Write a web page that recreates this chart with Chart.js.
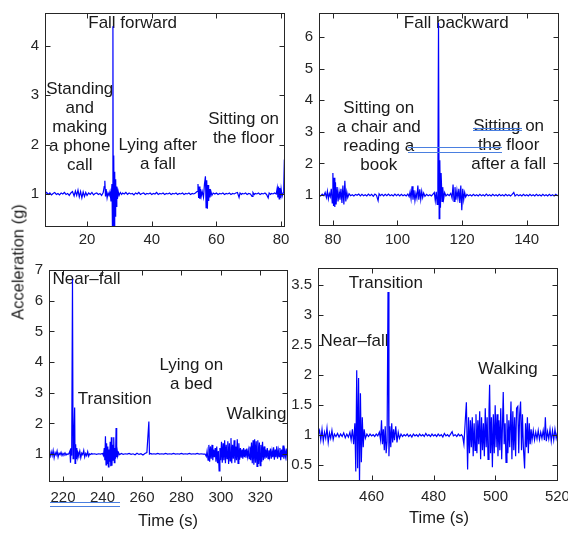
<!DOCTYPE html>
<html>
<head>
<meta charset="utf-8">
<script src="https://cdn.jsdelivr.net/npm/chart.js@4.4.1/dist/chart.umd.min.js"></script>
<style>
  body { margin: 0; background: #fff; width: 568px; height: 535px; position: relative; overflow: hidden; }
  canvas { position: absolute; }
  .axis-title { position: absolute; font: 16.5px 'Liberation Sans', Arial, sans-serif; color: #1a1a1a; white-space: nowrap; transform: translate(-50%, -50%); }
  #ylab { transform: translate(-50%, -50%) rotate(-90deg); }
  .ink { position: absolute; border-top: 1px solid #4a7fe0; border-bottom: 1px solid #4a7fe0; box-sizing: border-box; }
</style>
</head>
<body>
<canvas id="tl"></canvas>
<canvas id="tr"></canvas>
<canvas id="bl"></canvas>
<canvas id="br"></canvas>
<div class="axis-title" id="ylab" style="left:18px; top:262px;">Acceleration (g)</div>
<div class="axis-title" style="left:168px; top:520px;">Time (s)</div>
<div class="axis-title" style="left:439px; top:517px;">Time (s)</div>
<div class="ink" style="left:473px; top:128px; width:49px; height:3px;"></div>
<div class="ink" style="left:408px; top:147px; width:94px; height:6px;"></div>
<div class="ink" style="left:50px; top:502px; width:70px; height:5px;"></div>
<script>
// [time (s), acceleration (g)]
const tlSamples = [
  [7,1.00],[7.5,1.03],[8,0.99],[8.5,1.02],[9,0.98],[9.5,1.01],[10,1.03],[10.5,0.99],[11,1.01],[11.5,0.98],
  [12,1.02],[12.5,1.00],[13,1.03],[13.5,0.99],[14,1.01],[14.5,0.97],[15,1.02],[15.5,1.05],[16,0.96],[16.4,1.06],
  [16.8,0.97],[17.2,1.08],[17.6,0.94],[18,1.05],[18.4,0.92],[18.8,1.04],[19.2,0.95],[19.6,1.03],[20,0.97],[20.5,1.02],
  [21,0.99],[21.5,1.03],[22,0.98],[22.5,1.01],[23,1.02],[23.5,0.99],[24,1.01],[24.5,0.97],[25,1.03],[25.3,1.15],
  [25.5,1.27],[25.7,0.95],[25.9,1.10],[26.2,0.92],[26.5,1.02],[26.8,0.97],[27.1,1.05],[27.4,0.85],[27.7,1.20],[27.85,0.30],
  [28,4.40],[28.1,0.20],[28.25,1.78],[28.4,0.30],[28.55,1.45],[28.7,0.55],[28.85,1.30],[29,0.75],[29.2,1.15],[29.4,0.90],
  [29.6,1.06],[29.9,0.97],[30.3,1.03],[30.7,0.99],[31,1.02],[31.5,1.00],[32,1.03],[32.5,0.99],[33,1.02],[33.5,1.00],
  [34,1.01],[34.5,0.98],[35,1.02],[35.5,1.00],[36,1.03],[36.5,0.99],[37,1.01],[37.5,1.02],[38,0.99],[38.5,1.01],
  [39,1.00],[39.5,1.02],[40,0.99],[40.5,1.01],[41,1.00],[41.5,1.03],[42,0.99],[42.5,1.01],[43,1.00],[43.5,1.02],
  [44,0.99],[44.5,1.01],[45,1.00],[45.5,1.02],[46,0.99],[46.5,1.01],[47,1.00],[47.5,1.02],[48,0.99],[48.5,1.01],
  [49,1.00],[49.5,1.02],[50,0.99],[50.5,1.01],[51,1.00],[51.5,1.02],[52,0.99],[52.5,1.01],[53,1.00],[53.5,1.02],
  [54,1.05],[54.3,1.20],[54.5,0.92],[54.7,1.15],[54.9,0.90],[55.1,1.10],[55.3,0.95],[55.6,1.05],[56,0.93],[56.3,1.20],
  [56.6,1.36],[56.8,0.72],[57,1.28],[57.2,0.70],[57.4,1.18],[57.6,0.86],[57.8,1.10],[58,0.93],[58.3,1.05],[58.6,0.97],
  [59,1.02],[59.5,1.00],[60,1.02],[60.5,0.99],[61,1.01],[61.5,1.00],[62,1.02],[62.5,0.99],[63,1.01],[63.5,1.00],
  [64,1.02],[64.5,0.99],[65,1.01],[65.5,1.00],[66,1.02],[66.5,1.03],[67,0.93],[67.3,1.02],[67.7,0.99],[68,1.01],
  [68.5,1.00],[69,1.02],[69.5,0.99],[70,1.01],[70.5,1.00],[71,0.95],[71.3,1.03],[71.7,0.99],[72,1.01],[72.5,1.00],
  [73,1.02],[73.5,0.99],[74,1.01],[74.5,1.00],[75,1.02],[75.5,0.99],[76,0.92],[76.3,1.02],[76.7,0.99],[77,1.01],
  [77.5,1.00],[78,1.02],[78.5,1.00],[78.8,1.12],[79,0.93],[79.2,1.15],[79.4,0.90],[79.6,1.12],[79.8,0.92],[80,1.10],
  [80.3,0.95],[80.6,1.02],[80.8,1.10],[81.0,1.70],[81.1,0.72],[81.2,0.78]
];

const trSamples = [
  [75.7,1.00],[76.2,0.97],[76.7,1.03],[77.2,0.98],[77.6,1.08],[78,0.92],[78.3,1.12],[78.6,0.88],[78.9,1.05],[79.2,0.95],
  [79.5,1.20],[79.8,0.75],[80,1.70],[80.2,0.65],[80.4,1.55],[80.6,0.62],[80.8,1.40],[81,0.70],[81.3,1.25],[81.6,0.80],
  [81.9,1.10],[82.2,0.85],[82.5,1.20],[82.8,0.75],[83.1,1.30],[83.4,0.70],[83.7,1.45],[84,0.80],[84.3,1.10],[84.6,0.92],
  [85,1.04],[85.5,0.98],[86,1.01],[86.5,0.97],[87,1.02],[87.5,0.99],[88,1.03],[88.5,0.97],[89,1.02],[89.5,0.98],
  [90,1.01],[90.5,0.97],[91,1.03],[91.5,0.98],[92,1.02],[92.5,0.96],[93,1.03],[93.5,0.99],[94,0.82],[94.3,1.04],
  [94.7,0.98],[95.2,1.02],[95.7,0.97],[96.2,1.02],[96.7,0.98],[97.2,1.03],[97.7,0.98],[98.2,1.01],[98.7,0.97],[99.2,1.03],
  [99.7,0.98],[100.2,1.02],[100.7,0.97],[101.2,1.02],[101.7,0.98],[102.2,1.01],[102.7,0.97],[103.2,1.03],[103.6,0.95],[103.9,1.10],
  [104.2,0.88],[104.5,1.28],[104.8,0.85],[105.1,1.15],[105.4,0.82],[105.7,1.05],[106,0.90],[106.3,1.30],[106.6,0.85],[106.9,1.18],
  [107.2,0.86],[107.5,1.12],[107.8,0.92],[108.1,1.06],[108.5,0.96],[109,1.02],[109.5,0.98],[110,1.01],[110.5,0.97],[111,1.03],
  [111.4,1.08],[111.7,0.82],[112,1.10],[112.3,0.70],[112.5,1.40],[112.7,6.45],[112.9,0.25],[113.1,2.10],[113.3,0.60],[113.5,1.70],
  [113.8,0.80],[114,1.25],[114.3,0.88],[114.6,1.08],[115,0.97],[115.5,1.02],[116,0.98],[116.5,1.05],[116.9,0.90],[117.2,1.33],
  [117.5,0.80],[117.8,1.25],[118.1,0.85],[118.4,1.15],[118.7,0.90],[119,1.20],[119.3,0.75],[119.6,1.30],[119.9,0.52],[120.2,1.20],
  [120.5,0.85],[120.8,1.08],[121.1,0.94],[121.5,1.02],[122,0.98],[122.5,1.01],[123,0.97],[123.5,1.02],[124,0.98],[124.5,1.01],
  [125,0.97],[125.5,1.02],[126,0.98],[126.5,1.01],[127,0.97],[127.5,1.03],[128,0.98],[128.5,1.01],[129,0.97],[129.5,1.02],
  [130,0.98],[130.5,1.01],[131,0.97],[131.5,1.02],[132,0.98],[132.5,1.01],[133,0.97],[133.5,1.02],[134,0.98],[134.5,1.01],
  [135,0.97],[135.5,1.02],[136,1.08],[136.4,0.97],[137,1.02],[137.5,0.98],[138,1.01],[138.5,0.97],[139,1.02],[139.5,0.98],
  [140,1.01],[140.5,0.97],[141,1.02],[141.5,0.98],[142,1.01],[142.5,0.97],[143,1.02],[143.5,0.98],[144,1.01],[144.5,0.97],
  [145,1.02],[145.5,0.98],[146,1.01],[146.5,0.97],[147,1.02],[147.5,0.98],[148,1.01],[148.5,0.97],[149,1.02],[149.5,0.98],[150,1.00]
];

const blSamples = [
  [212.9,1.00],[213.5,0.92],[214,1.08],[214.5,0.95],[215,1.12],[215.5,0.88],[216,1.05],[216.5,0.97],[217,1.10],[217.5,0.90],
  [218,1.03],[218.5,0.98],[219,1.06],[219.5,0.95],[220,1.02],[220.5,0.98],[221,1.04],[221.5,0.97],[222,1.01],[222.5,0.99],
  [223,1.02],[223.5,1.10],[223.8,0.72],[224.1,1.20],[224.4,0.95],[224.8,6.70],[225.1,0.85],[225.4,1.30],[225.9,2.52],[226.1,0.70],
  [226.4,1.32],[226.7,0.85],[227,1.20],[227.3,0.92],[227.6,1.05],[228,0.97],[228.5,1.10],[229,0.88],[229.5,1.03],[230,0.98],
  [230.5,1.12],[231,0.90],[231.5,1.02],[232,0.95],[232.5,1.08],[233,0.93],[233.5,1.01],[234,0.99],[234.5,1.02],[235,1.00],
  [236,1.01],[237,0.99],[238,1.01],[239,1.00],[240,1.02],[240.5,0.95],[240.9,1.20],[241.2,0.80],[241.5,1.58],[241.8,0.65],
  [242.1,1.35],[242.4,0.70],[242.7,1.25],[243,0.58],[243.3,1.15],[243.6,0.75],[243.9,1.40],[244.2,0.60],[244.5,1.55],[244.8,0.62],
  [245.1,1.30],[245.4,0.80],[245.7,1.55],[246,0.72],[246.3,1.20],[246.6,0.85],[246.9,1.85],[247.2,0.90],[247.5,1.10],[247.8,0.95],
  [248.2,1.04],[248.7,0.98],[249.5,1.02],[250.5,0.99],[251.5,1.01],[252.5,1.00],[253.5,1.02],[254.5,0.99],[255.5,1.01],[256.5,0.98],
  [257.5,1.03],[258.5,0.99],[259.5,1.01],[260.5,0.97],[261.5,1.02],[262.5,1.05],[263.5,2.06],[263.8,1.00],[264.5,1.02],[265,1.00],
  [266,1.01],[267,1.00],[268,1.02],[269,1.00],[270,1.01],[271,1.00],[272,1.02],[273,1.00],[274,1.01],[275,1.00],
  [276,1.02],[277,1.00],[278,1.01],[279,1.00],[280,1.02],[281,1.00],[282,1.01],[283,1.00],[284,1.02],[285,1.00],
  [286,1.01],[287,1.00],[288,1.02],[289,1.00],[290,1.01],[291,1.00],[292,1.00],[292.6,0.92],[293,1.10],[293.5,0.80],
  [293.9,1.30],[294.3,0.75],[294.7,1.25],[295.1,0.85],[295.5,1.30],[295.9,0.80],[296.3,1.15],[296.7,0.90],[297.1,1.20],[297.5,0.75],
  [297.9,1.25],[298.3,0.70],[298.7,1.10],[299.1,0.45],[299.5,1.20],[299.9,0.80],[300.3,1.40],[300.7,0.72],[301.1,1.35],[301.5,0.80],
  [301.9,1.45],[302.3,0.70],[302.7,1.30],[303.1,0.85],[303.5,1.42],[303.9,0.68],[304.3,1.35],[304.7,0.78],[305.1,1.52],[305.5,0.70],
  [305.9,1.30],[306.3,0.85],[306.7,1.45],[307.1,0.72],[307.5,1.25],[307.9,0.80],[308.3,1.48],[308.7,0.70],[309.1,1.35],[309.5,0.82],
  [309.9,1.20],[310.3,0.88],[310.7,1.15],[311.1,0.85],[311.5,1.20],[311.9,0.90],[312.3,1.15],[312.7,0.88],[313.1,1.18],[313.5,0.92],
  [313.9,1.12],[314.3,0.85],[314.7,1.25],[315.1,0.80],[315.5,1.38],[315.9,0.70],[316.3,1.45],[316.7,0.65],[317.1,1.48],[317.5,0.72],
  [317.9,1.42],[318.3,0.60],[318.7,1.45],[319.1,0.68],[319.5,1.38],[319.9,0.62],[320.3,1.30],[320.7,0.75],[321.1,1.40],[321.5,0.80],
  [321.9,1.25],[322.3,0.85],[322.7,1.15],[323.1,0.88],[323.5,1.20],[323.9,0.85],[324.3,1.12],[324.7,0.92],[325.1,1.18],[325.5,0.85],
  [325.9,1.10],[326.3,0.90],[326.7,1.22],[327.1,0.82],[327.5,1.15],[327.9,0.90],[328.3,1.25],[328.7,0.85],[329.1,1.12],[329.5,0.92],
  [329.9,1.20],[330.3,0.80],[330.7,1.15],[331.1,0.90],[331.5,1.28],[331.9,0.85],[332.3,1.10],[332.7,0.92],[333.1,1.18],[333.5,0.88],[334,1.00]
];

const brSamples = [
  [442.7,1.00],[443.2,1.08],[443.6,0.92],[444,1.10],[444.4,0.90],[444.8,1.05],[445.2,0.95],[445.6,1.12],[446,0.88],[446.4,1.04],
  [446.8,0.95],[447.2,1.08],[447.6,0.93],[448,1.02],[448.5,0.98],[449,1.03],[449.5,0.97],[450,1.02],[450.5,0.98],[451,1.04],
  [451.5,0.96],[452,1.02],[452.5,0.97],[453,1.05],[453.4,0.92],[453.8,1.10],[454.2,0.85],[454.6,1.20],[454.9,0.40],[455.2,2.08],
  [455.5,0.45],[455.8,1.95],[456.1,0.20],[456.4,1.70],[456.7,0.55],[457,1.30],[457.3,0.80],[457.6,1.10],[458,0.95],[458.5,1.02],
  [459,0.98],[459.5,1.02],[460,0.99],[460.5,1.01],[461,0.98],[461.5,1.02],[462,0.99],[462.5,1.05],[462.9,0.92],[463.2,1.25],
  [463.5,0.85],[463.8,1.10],[464.1,0.75],[464.4,1.15],[464.7,0.70],[465,0.90],[465.3,3.38],[465.6,0.65],[465.9,1.15],[466.2,0.80],
  [466.5,1.20],[466.8,0.88],[467.1,1.10],[467.4,0.92],[467.8,1.15],[468.2,0.88],[468.6,1.05],[469,0.95],[469.5,1.02],[470,0.98],
  [470.5,1.01],[471,0.99],[471.5,1.02],[472,0.98],[472.5,1.01],[473,0.97],[473.5,1.02],[474,0.99],[474.5,1.01],[475,0.98],
  [475.5,1.02],[476,0.99],[476.5,1.01],[477,0.98],[477.5,1.03],[478,0.99],[478.5,1.01],[479,0.98],[479.5,1.02],[480,0.99],
  [480.5,1.01],[481,0.98],[481.5,1.02],[482,0.99],[482.5,1.01],[483,0.97],[483.5,1.03],[484,0.99],[484.5,1.01],[485,0.98],
  [485.5,1.02],[486,1.06],[486.4,0.99],[487,1.01],[487.5,0.98],[488,1.02],[488.5,0.99],[489,1.01],[489.4,0.98],[489.8,0.85],
  [490.2,1.20],[490.6,1.55],[491,0.43],[491.3,1.30],[491.6,0.70],[491.9,1.25],[492.2,0.80],[492.5,1.30],[492.8,0.65],[493.1,1.20],
  [493.4,0.75],[493.7,1.35],[494,0.70],[494.3,1.25],[494.6,0.85],[494.9,1.40],[495.2,0.60],[495.5,1.30],[495.8,0.75],[496.1,1.20],
  [496.4,0.65],[496.7,1.45],[497,0.80],[497.3,1.30],[497.6,0.60],[497.9,1.40],[498.1,1.84],[498.4,0.70],[498.7,1.30],[499,0.47],
  [499.3,1.35],[499.6,0.70],[499.9,1.50],[500.2,0.80],[500.5,1.35],[500.8,0.65],[501.1,1.25],[501.4,0.75],[501.7,1.45],[502,0.60],
  [502.5,1.72],[502.8,0.85],[503.1,1.20],[503.4,0.55],[503.7,1.35],[504,0.70],[504.3,1.25],[504.6,0.80],[505,1.56],[505.3,0.60],
  [505.6,1.40],[505.9,0.75],[506.2,1.30],[506.5,0.65],[506.8,1.45],[507.2,1.48],[507.5,0.70],[507.8,1.35],[508.1,1.56],[508.4,0.75],
  [508.7,1.35],[509,0.80],[509.4,0.45],[509.7,1.20],[510,0.80],[510.3,1.30],[510.6,0.70],[510.9,1.20],[511.2,0.85],[511.5,1.10],
  [511.8,0.92],[512.2,1.08],[512.6,0.92],[513,1.05],[513.4,0.94],[513.8,1.08],[514.2,0.93],[514.6,1.05],[515,0.95],[515.4,1.08],
  [515.8,0.92],[516.1,1.30],[516.4,0.90],[516.8,1.06],[517.2,0.94],[517.6,1.10],[518,0.90],[518.4,1.08],[518.8,0.92],[519.2,1.10],
  [519.6,0.95],[520,1.05],[520.2,0.93]
];

// tick values
const tlTicksX = [20, 40, 60, 80];
const tlTicksY = [1, 2, 3, 4];
const trTicksX = [80, 100, 120, 140];
const trTicksY = [1, 2, 3, 4, 5, 6];
const blTicksX = [220, 240, 260, 280, 300, 320];
const blTicksY = [1, 2, 3, 4, 5, 6, 7];
const brTicksX = [460, 480, 500, 520];
const brTicksY = [0.5, 1, 1.5, 2, 2.5, 3, 3.5];

// activity labels, placed at (time, g)
const tlNotes = [
  { lines: ['Fall forward'], x: 34.1, y: 4.47 },
  { lines: ['Standing', 'and', 'making', 'a phone', 'call'], x: 17.75, y: 2.35 },
  { lines: ['Lying after', 'a fall'], x: 41.9, y: 1.79 },
  { lines: ['Sitting on', 'the floor'], x: 68.4, y: 2.33 }
];
const trNotes = [
  { lines: ['Fall backward'], x: 118.2, y: 6.43 },
  { lines: ['Sitting on', 'a chair and', 'reading a', 'book'], x: 94.2, y: 2.83 },
  { lines: ['Sitting on', 'the floor', 'after a fall'], x: 134.4, y: 2.58 }
];
const blNotes = [
  { lines: ['Near\u2013fall'], x: 231.9, y: 6.70 },
  { lines: ['Transition'], x: 246.2, y: 2.79 },
  { lines: ['Lying on', 'a bed'], x: 285.0, y: 3.57 },
  { lines: ['Walking'], x: 318.0, y: 2.31 }
];
const brNotes = [
  { lines: ['Transition'], x: 464.6, y: 3.52 },
  { lines: ['Near\u2013fall'], x: 454.5, y: 2.56 },
  { lines: ['Walking'], x: 504.0, y: 2.10 }
];

const FONT = "'Liberation Sans', Arial, sans-serif";
Chart.defaults.font.family = FONT;

const AXIS_W = 44, AXIS_H = 30, PAD_T = 12, PAD_R = 16;

const panels = [
  { id: 'tl', area: [45, 10, 285, 227], xr: [7, 81.2], yr: [0.33, 4.67], xt: tlTicksX, yt: tlTicksY, data: tlSamples, notes: tlNotes, xpad: 4 },
  { id: 'tr', area: [319, 10, 559, 226], xr: [75.7, 150], yr: [0.02, 6.76], xt: trTicksX, yt: trTicksY, data: trSamples, notes: trNotes, xpad: 5 },
  { id: 'bl', area: [49, 267, 288, 482], xr: [212.9, 334], yr: [0.09, 7], xt: blTicksX, yt: blTicksY, data: blSamples, notes: blNotes, xpad: 7 },
  { id: 'br', area: [318, 265, 561, 481], xr: [442.7, 520.2], yr: [0.24, 3.78], xt: brTicksX, yt: brTicksY, data: brSamples, notes: brNotes, xpad: 7 }
];

function boxPlugin(notes) {
  return {
    id: 'matlabBox',
    beforeDatasetsDraw(chart) {
      const { ctx, scales: { x, y } } = chart;
      ctx.save();
      ctx.fillStyle = '#1a1a1a';
      ctx.font = '17px ' + FONT;
      ctx.textAlign = 'center';
      ctx.textBaseline = 'middle';
      notes.forEach(n => {
        const cx = x.getPixelForValue(n.x), cy = y.getPixelForValue(n.y);
        n.lines.forEach((s, i) => ctx.fillText(s, cx, cy + (i - (n.lines.length - 1) / 2) * 19));
      });
      ctx.restore();
    },
    afterDraw(chart) {
      const { ctx, chartArea: a, scales: { x, y } } = chart;
      const L = Math.round(a.left) + 0.5, R = Math.round(a.right) - 0.5;
      const T = Math.round(a.top) + 0.5, B = Math.round(a.bottom) - 0.5;
      ctx.save();
      ctx.strokeStyle = '#262626';
      ctx.lineWidth = 1;
      ctx.strokeRect(L, T, R - L, B - T);
      ctx.beginPath();
      x.ticks.forEach(t => {
        const px = Math.round(x.getPixelForValue(t.value)) + 0.5;
        ctx.moveTo(px, B); ctx.lineTo(px, B - 5);
        ctx.moveTo(px, T); ctx.lineTo(px, T + 5);
      });
      y.ticks.forEach(t => {
        const py = Math.round(y.getPixelForValue(t.value)) + 0.5;
        ctx.moveTo(L, py); ctx.lineTo(L + 5, py);
        ctx.moveTo(R, py); ctx.lineTo(R - 5, py);
      });
      ctx.stroke();
      ctx.restore();
    }
  };
}

for (const p of panels) {
  const [l, t, r, b] = p.area;
  const canvas = document.getElementById(p.id);
  const left = l - AXIS_W, top = t - PAD_T;
  canvas.style.left = left + 'px';
  canvas.style.top = top + 'px';
  canvas.width = r - left + PAD_R;
  canvas.height = b - top + AXIS_H;

  new Chart(canvas, {
    type: 'line',
    data: {
      datasets: [{
        data: p.data.map(([tm, g]) => ({ x: tm, y: g })),
        borderColor: 'rgb(0,0,255)',
        borderWidth: 1.2,
        pointRadius: 0,
        tension: 0
      }]
    },
    options: {
      responsive: false,
      animation: false,
      devicePixelRatio: 1,
      layout: { padding: { top: PAD_T, right: PAD_R, left: 0, bottom: 0 } },
      plugins: { legend: { display: false }, tooltip: { enabled: false } },
      scales: {
        x: {
          type: 'linear',
          min: p.xr[0], max: p.xr[1],
          grid: { display: false, drawTicks: false },
          border: { display: false },
          afterBuildTicks: s => { s.ticks = p.xt.map(v => ({ value: v })); },
          afterFit: s => { s.height = AXIS_H; },
          ticks: { padding: p.xpad, color: '#262626', font: { size: 15 }, maxRotation: 0, autoSkip: false, callback: v => String(v) }
        },
        y: {
          min: p.yr[0], max: p.yr[1],
          grid: { display: false, drawTicks: false },
          border: { display: false },
          afterBuildTicks: s => { s.ticks = p.yt.map(v => ({ value: v })); },
          afterFit: s => { s.width = AXIS_W; },
          ticks: { padding: 6, color: '#262626', font: { size: 15 }, autoSkip: false, callback: v => String(v) }
        }
      }
    },
    plugins: [boxPlugin(p.notes)]
  });
}
</script>
</body>
</html>
